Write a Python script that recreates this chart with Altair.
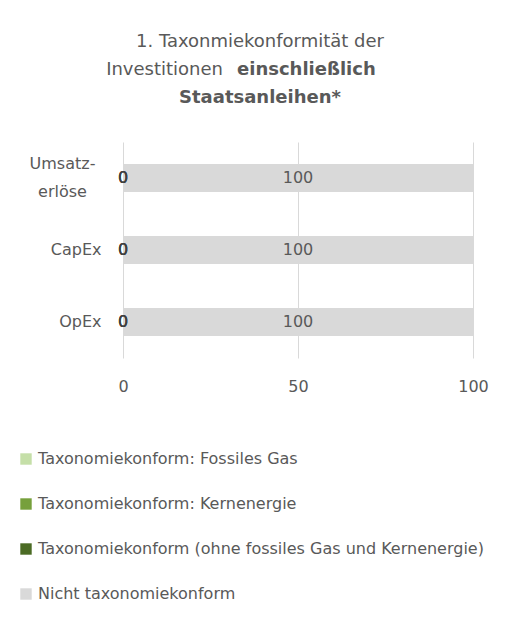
import altair as alt
import pandas as pd

categories = ["Umsatzerlöse", "CapEx", "OpEx"]
series = [
    "Taxonomiekonform: Fossiles Gas",
    "Taxonomiekonform: Kernenergie",
    "Taxonomiekonform (ohne fossiles Gas und Kernenergie)",
    "Nicht taxonomiekonform",
]
values = {
    "Umsatzerlöse": [0, 0, 0, 100],
    "CapEx": [0, 0, 0, 100],
    "OpEx": [0, 0, 0, 100],
}
colors = ["#c5dfa8", "#76a03c", "#4b6b24", "#d9d9d9"]
label_colors = ["#404040", "#404040", "#404040", "#595959"]
x_ticks = [0, 50, 100]

rows = []
for c in categories:
    for i, s in enumerate(series):
        rows.append({"cat": c, "series": s, "value": values[c][i], "order": i,
                     "lc": label_colors[i]})
df = pd.DataFrame(rows)

FONT = "DejaVu Sans"
GREY = "#595959"

base = alt.Chart(df).transform_stack(
    stack="value", groupby=["cat"], sort=[alt.SortField("order")], as_=["x0", "x1"]
).transform_calculate(mid="(datum.x0 + datum.x1) / 2")

is_umsatz = "datum.value == 'Umsatzerlöse'"
y_enc = alt.Y(
    "cat:N",
    sort=categories,
    scale=alt.Scale(paddingInner=0.61, paddingOuter=0.305),
    axis=alt.Axis(
        title=None, domain=False, ticks=False,
        labelPadding={"condition": {"test": is_umsatz, "value": 61}, "value": 22},
        labelAlign={"condition": {"test": is_umsatz, "value": "center"}, "value": "right"},
        labelFontSize=16, labelColor=GREY, labelFont=FONT, labelLineHeight=28,
        labelExpr="datum.label == 'Umsatzerlöse' ? ['Umsatz-', 'erlöse'] : datum.label",
        labelOffset={"condition": {"test": is_umsatz, "value": -14}, "value": 0},
    ),
)

bars = base.mark_bar().encode(
    x=alt.X(
        "x0:Q",
        scale=alt.Scale(domain=[0, 100], nice=False),
        axis=alt.Axis(
            title=None, values=x_ticks, domain=False, ticks=False, labelPadding=20,
            labelFontSize=16, labelColor=GREY, labelFont=FONT, grid=True,
            gridColor="#d9d9d9", gridWidth=1, labelFlush=False,
        ),
    ),
    x2="x1:Q",
    y=y_enc,
    color=alt.Color(
        "series:N",
        scale=alt.Scale(domain=series, range=colors),
        legend=alt.Legend(
            title=None, orient="none", legendX=-105, legendY=309, direction="vertical",
            symbolType="square", symbolSize=130, symbolStrokeWidth=0,
            labelFontSize=16, labelColor=GREY, labelFont=FONT, rowPadding=29,
            labelOffset=4, padding=0, labelLimit=600, symbolOpacity=1,
        ),
    ),
    order=alt.Order("order:Q"),
)

labels = base.mark_text(fontSize=16, font=FONT).encode(
    x=alt.X("mid:Q"),
    y=alt.Y("cat:N", sort=categories),
    text=alt.Text("value:Q"),
    color=alt.Color("lc:N", scale=None, legend=None),
)

t1 = alt.Chart(pd.DataFrame({"t": ["1. Taxonmiekonformität der"]})).mark_text(
    fontSize=18, font=FONT, color=GREY, align="center").encode(
    text="t:N", x=alt.value(137), y=alt.value(-100))
t2 = alt.Chart(pd.DataFrame({"t": ["Investitionen"]})).mark_text(
    fontSize=18, font=FONT, color=GREY, align="right").encode(
    text="t:N", x=alt.value(100), y=alt.value(-72))
t3 = alt.Chart(pd.DataFrame({"t": ["einschließlich"]})).mark_text(
    fontSize=18, font=FONT, color=GREY, align="left", fontWeight="bold").encode(
    text="t:N", x=alt.value(114), y=alt.value(-72))
t4 = alt.Chart(pd.DataFrame({"t": ["Staatsanleihen*"]})).mark_text(
    fontSize=18, font=FONT, color=GREY, align="center", fontWeight="bold").encode(
    text="t:N", x=alt.value(137), y=alt.value(-44))

chart = alt.layer(bars, labels, t1, t2, t3, t4).properties(
    width=350, height=216,
    autosize=alt.AutoSizeParams(type="none"),
    padding={"left": 115, "top": 134, "right": 38, "bottom": 255},
    background="white",
).configure_view(stroke=None)

chart.save("out.html", embed_options={"renderer": "svg", "actions": False})
